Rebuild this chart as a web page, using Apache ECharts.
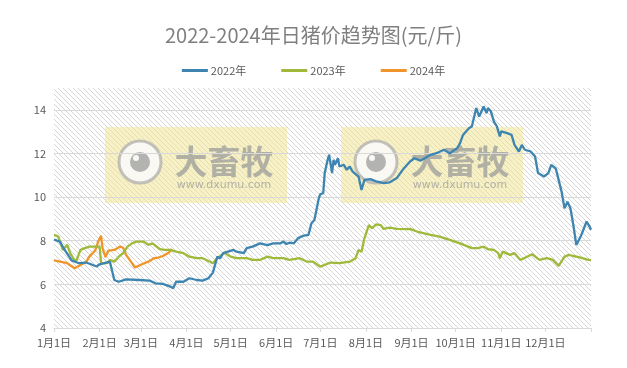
<!DOCTYPE html>
<html><head><meta charset="utf-8">
<script src="https://cdn.jsdelivr.net/npm/echarts@6/dist/echarts.min.js"></script>
<style>html,body{margin:0;padding:0;background:#fff}#c{width:627px;height:368px}</style>
</head><body><div id="c"></div>
<script>
const titleText = '2022-2024年日猪价趋势图(元/斤)';
const seriesNames = ['2022年', '2023年', '2024年'];
const monthDays = [31,28,31,30,31,30,31,31,30,31,30,31];
const monthLabels = ['1月1日','2月1日','3月1日','4月1日','5月1日','6月1日','7月1日','8月1日','9月1日','10月1日','11月1日','12月1日'];
const yMin = 4, yMax = 15, yStep = 2;

// [day of year (0 = 1月1日), price]
const s2022 = [[0,8.05],[4,7.96],[7,7.6],[12,7.1],[17,6.97],[22,7.0],[29,6.82],[31,6.92],[38,7.04],[41,6.2],[44,6.12],[49,6.23],[58,6.2],[65,6.17],[69,6.05],[74,6.02],[79,5.9],[81,5.82],[83,6.12],[88,6.12],[92,6.28],[97,6.2],[101,6.17],[105,6.28],[108,6.54],[111,7.27],[113,7.2],[115,7.43],[122,7.58],[124,7.5],[129,7.43],[131,7.66],[135,7.73],[140,7.88],[145,7.8],[149,7.88],[154,7.88],[156,7.96],[158,7.85],[160,7.91],[163,7.88],[166,8.12],[169,8.22],[173,8.27],[175,8.8],[177,8.95],[180,9.95],[181,10.13],[183,10.18],[184,11.1],[186,11.71],[187,11.94],[189,11.1],[190,11.71],[191,11.48],[193,11.78],[194,11.4],[197,11.48],[199,11.25],[201,11.4],[203,11.17],[207,10.94],[209,10.33],[211,10.79],[215,10.82],[219,10.72],[224,10.64],[228,10.67],[233,10.87],[237,11.25],[242,11.63],[245,11.78],[249,11.67],[252,11.78],[256,11.94],[260,12.01],[265,12.17],[269,12.01],[274,12.24],[276,12.47],[278,12.85],[282,13.16],[284,13.24],[287,14.08],[289,13.69],[292,14.15],[294,13.85],[295,14.08],[297,13.92],[299,13.46],[301,13.24],[303,12.78],[304,13.01],[308,12.93],[311,12.85],[313,12.39],[316,12.09],[318,12.39],[320,12.17],[324,12.09],[327,11.86],[329,11.1],[333,10.94],[336,11.1],[338,11.48],[341,11.32],[343,10.79],[345,10.25],[347,9.49],[349,9.79],[351,9.49],[353,8.72],[355,7.81],[358,8.19],[359,8.27],[362,8.88],[364,8.65],[365,8.5]];
const s2023 = [[0,8.27],[3,8.19],[6,7.58],[9,7.81],[11,7.43],[13,7.2],[15,7.04],[18,7.58],[21,7.66],[24,7.73],[31,7.73],[32,6.97],[36,6.97],[38,7.12],[41,7.04],[44,7.27],[47,7.43],[50,7.73],[53,7.88],[56,7.96],[61,7.96],[64,7.81],[67,7.88],[72,7.61],[75,7.58],[79,7.58],[83,7.5],[88,7.43],[92,7.27],[97,7.2],[101,7.2],[106,7.04],[108,6.97],[111,7.2],[114,7.35],[116,7.45],[120,7.27],[124,7.2],[131,7.2],[135,7.12],[140,7.12],[145,7.27],[149,7.2],[156,7.2],[160,7.12],[167,7.2],[172,7.04],[176,7.04],[181,6.81],[188,7.0],[194,6.97],[201,7.04],[205,7.2],[207,7.58],[209,7.5],[211,8.11],[214,8.72],[216,8.57],[219,8.75],[222,8.72],[224,8.54],[228,8.6],[233,8.54],[240,8.53],[242,8.54],[248,8.39],[256,8.27],[262,8.19],[269,8.04],[276,7.88],[284,7.66],[288,7.66],[292,7.73],[295,7.61],[299,7.58],[302,7.43],[303,7.2],[305,7.5],[310,7.35],[313,7.43],[317,7.12],[325,7.38],[330,7.12],[335,7.2],[339,7.12],[343,6.85],[347,7.27],[350,7.35],[353,7.3],[358,7.23],[362,7.15],[365,7.1]];
const s2024 = [[0,7.1],[9,6.97],[10,6.92],[14,6.74],[18,6.89],[22,7.04],[24,7.27],[28,7.55],[30,7.95],[32,8.23],[33,7.65],[35,7.25],[37,7.55],[41,7.58],[45,7.73],[47,7.68],[49,7.35],[53,6.97],[55,6.77],[59,6.9],[64,7.04],[68,7.2],[71,7.23],[74,7.3],[78,7.45],[80,7.62]];

const colors = ['#3d85b0', '#9fb93a', '#f0952b'];

// day categories
const dayCats = [];
const monthStart = new Set();
monthDays.forEach((n, m) => {
  monthStart.add(dayCats.length);
  for (let d = 1; d <= n; d++) dayCats.push((m + 1) + '月' + d + '日');
});
const endIndex = dayCats.length;
dayCats.push('1月1日');

// hatch pattern
const pc = document.createElement('canvas');
pc.width = 5; pc.height = 5;
const px = pc.getContext('2d');
px.fillStyle = '#ffffff'; px.fillRect(0, 0, 5, 5);
px.strokeStyle = '#d6d6d6'; px.lineWidth = 1;
px.beginPath();
px.moveTo(-1, -1); px.lineTo(6, 6);
px.moveTo(-1, 4); px.lineTo(1, 6);
px.moveTo(4, -1); px.lineTo(6, 1);
px.stroke();

function watermark(x0) {
  return {
    type: 'group', left: x0, top: 127, z: 100,
    children: [
      { type: 'rect', shape: { x: 0, y: 0, width: 182, height: 76 }, style: { fill: 'rgba(240,229,150,0.55)' } },
      { type: 'circle', shape: { cx: 35, cy: 35, r: 21 }, style: { fill: 'rgba(250,250,250,0.85)', stroke: 'rgba(170,170,170,0.7)', lineWidth: 3 } },
      { type: 'circle', shape: { cx: 35, cy: 35, r: 10 }, style: { fill: 'rgba(155,155,155,0.75)' } },
      { type: 'circle', shape: { cx: 31, cy: 31, r: 3 }, style: { fill: 'rgba(255,255,255,0.9)' } },
      { type: 'text', x: 119, y: 34, style: { text: '大畜牧', font: 'bold 33px "Noto Sans CJK SC"', fill: 'rgba(155,155,155,0.75)', textAlign: 'center', textVerticalAlign: 'middle' } },
      { type: 'text', x: 119, y: 58, style: { text: 'www.dxumu.com', font: '11px "DejaVu Sans"', fill: 'rgba(155,155,155,0.75)', textAlign: 'center', textVerticalAlign: 'middle' } }
    ]
  };
}

const chart = echarts.init(document.getElementById('c'), null, { renderer: 'canvas' });
const font = '"Noto Sans CJK SC", "Noto Sans", sans-serif';
chart.setOption({
  animation: false,
  backgroundColor: '#ffffff',
  title: { text: titleText, left: 'center', top: 20, textStyle: { fontSize: 20, fontWeight: 'normal', color: '#7f7f7f', fontFamily: font } },
  legend: {
    top: 60, left: 'center', itemGap: 35, itemWidth: 26, itemHeight: 3, icon: 'rect',
    textStyle: { color: '#595959', fontSize: 11, fontFamily: font, padding: [0, 0, 0, -2] },
    data: seriesNames
  },
  grid: { left: 54, right: 36, top: 88, bottom: 40, show: true, borderWidth: 0, backgroundColor: { image: pc, repeat: 'repeat' } },
  xAxis: {
    type: 'category', data: dayCats, boundaryGap: false,
    axisLine: { lineStyle: { color: '#d9d9d9' } },
    axisTick: { length: 4, lineStyle: { color: '#d9d9d9' }, interval: (i) => monthStart.has(i) || i === endIndex },
    axisLabel: { interval: (i) => monthStart.has(i), color: '#595959', fontSize: 11, fontFamily: font, margin: 9, hideOverlap: false },
    splitLine: { show: false }
  },
  yAxis: {
    type: 'value', min: yMin, max: yMax, interval: yStep,
    axisLine: { show: false }, axisTick: { show: false },
    axisLabel: { color: '#595959', fontSize: 11, fontFamily: font, margin: 8, showMaxLabel: false },
    splitLine: { showMaxLine: false, lineStyle: { color: '#d9d9d9' } }
  },
  series: [s2022, s2023, s2024].map((d, i) => ({
    name: seriesNames[i], type: 'line', data: d, showSymbol: false, symbol: 'none',
    lineStyle: { width: 2.3, color: colors[i] }, itemStyle: { color: colors[i] }, z: 3 - i + 2
  })),
  graphic: [watermark(105), watermark(341)]
});
</script></body></html>
